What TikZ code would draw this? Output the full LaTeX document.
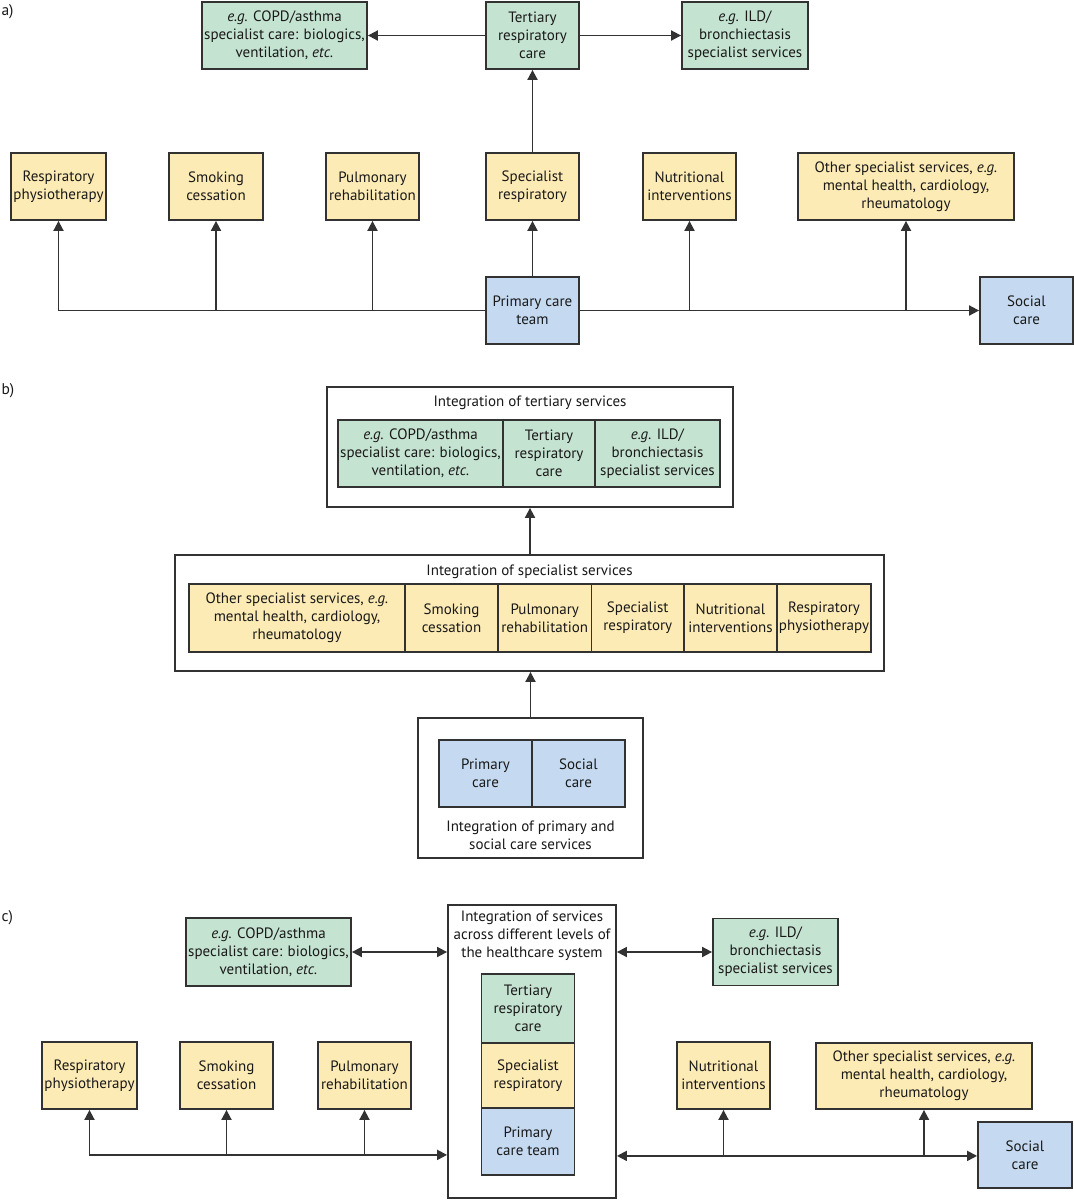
\documentclass[tikz,border=0pt]{standalone}
\usepackage{fontspec}
\setmainfont{PT Sans}
\usepackage{xcolor}
\usetikzlibrary{arrows.meta}
\definecolor{tergreen}{RGB}{197,227,209}
\definecolor{specyellow}{RGB}{253,235,181}
\definecolor{primblue}{RGB}{197,218,241}
\definecolor{linegray}{RGB}{50,50,50}

\begin{document}
\begin{tikzpicture}[x=1pt,y=-1pt,
  every node/.style={font=\fontsize{15}{18}\selectfont,text=black!90},
  box/.style={draw=linegray,line width=1.8pt,align=center,inner sep=0pt,minimum height=67pt},
  tertbox/.style={box,fill=tergreen},
  specbox/.style={box,fill=specyellow},
  primbox/.style={box,fill=primblue},
  frame/.style={draw=linegray,line width=1.8pt,fill=white,inner sep=0pt},
  conn/.style={line width=1.8pt,draw=linegray,-{Triangle[length=10pt,width=10pt]}},
  bconn/.style={line width=1.8pt,draw=linegray,{Triangle[length=10pt,width=10pt]}-{Triangle[length=10pt,width=10pt]}},
  lbl/.style={anchor=west,font=\fontsize{15.5}{18}\selectfont}]
\useasboundingbox (0,0) rectangle (1074,1200);

% a) separate services
\node[lbl] (alab) at (-2,12) {a)};
\node[tertbox,minimum width=165pt] (acopd) at (284.5,35.5) {\textit{e.g.} COPD/asthma\\specialist care: biologics,\\ventilation, \textit{etc.}};
\node[tertbox,minimum width=93pt] (atert) at (532.5,35.5) {Tertiary\\respiratory\\care};
\node[tertbox,minimum width=126pt] (aild) at (745,35.5) {\textit{e.g.} ILD/\\bronchiectasis\\specialist services};
\node[specbox,minimum width=95pt] (aresp) at (58.5,186.5) {Respiratory\\physiotherapy};
\node[specbox,minimum width=94pt] (asmok) at (216,186.5) {Smoking\\cessation};
\node[specbox,minimum width=93pt] (apulm) at (372.5,186.5) {Pulmonary\\rehabilitation};
\node[specbox,minimum width=93pt] (aspec) at (532.5,186.5) {Specialist\\respiratory};
\node[specbox,minimum width=93pt] (anutr) at (689.5,186.5) {Nutritional\\interventions};
\node[specbox,minimum width=216pt] (aoth) at (906,186.5) {Other specialist services, \textit{e.g.}\\mental health, cardiology,\\rheumatology};
\node[primbox,minimum width=93pt] (aprim) at (532.5,310.5) {Primary care\\team};
\node[primbox,minimum width=93pt] (asoc) at (1026.5,310.5) {Social\\care};

\draw[conn] (atert.west) -- (acopd.east);
\draw[conn] (atert.east) -- (aild.west);
\draw[conn] (aspec.north) -- (atert.south);
\draw[conn] (aprim.north) -- (aspec.south);
\draw[conn] (aprim.west) -| (aresp.south);
\foreach \n in {asmok,apulm} \draw[conn] (aprim.west -| \n.south) -- (\n.south);
\draw[conn] (aprim.east) -- (asoc.west);
\foreach \n in {anutr,aoth} \draw[conn] (aprim.east -| \n.south) -- (\n.south);

% b) integration level by level
\node[lbl] (blab) at (-2,391) {b)};
\node[frame,minimum width=406pt,minimum height=120pt] (btertout) at (530,447) {};
\node (btertttl) at (530,403) {Integration of tertiary services};
\node[tertbox,minimum width=165pt] (bcopd) at (420.5,453.5) {\textit{e.g.} COPD/asthma\\specialist care: biologics,\\ventilation, \textit{etc.}};
\node[tertbox,minimum width=92pt] (btert) at (549,453.5) {Tertiary\\respiratory\\care};
\node[tertbox,minimum width=125pt] (bild) at (657.5,453.5) {\textit{e.g.} ILD/\\bronchiectasis\\specialist services};

\node[frame,minimum width=709pt,minimum height=116pt] (bspecout) at (529.5,613) {};
\node (bspecttl) at (529.5,572) {Integration of specialist services};
\node[specbox,minimum width=216pt,minimum height=68pt] (both) at (297,618) {Other specialist services, \textit{e.g.}\\mental health, cardiology,\\rheumatology};
\node[specbox,minimum width=93pt,minimum height=68pt] (bsmok) at (451.5,618) {Smoking\\cessation};
\node[specbox,minimum width=93.5pt,minimum height=68pt] (bpulm) at (544.75,618) {Pulmonary\\rehabilitation};
\node[specbox,minimum width=92.5pt,minimum height=68pt] (bspec) at (637.75,618) {Specialist\\respiratory};
\node[specbox,minimum width=93pt,minimum height=68pt] (bnutr) at (730.5,618) {Nutritional\\interventions};
\node[specbox,minimum width=94pt,minimum height=68pt] (bresp) at (824,618) {Respiratory\\physiotherapy};

\node[frame,minimum width=225pt,minimum height=140pt] (bprimout) at (530.5,788) {};
\node[primbox,minimum width=93pt] (bprim) at (485.5,773.5) {Primary\\care};
\node[primbox,minimum width=93pt] (bsoc) at (578.5,773.5) {Social\\care};
\node[align=center] (bprimttl) at (530.5,835) {Integration of primary and\\social care services};

\draw[conn] (bspecout.north -| btertout.south) -- (btertout.south);
\draw[conn] (bprimout.north) -- (bprimout.north |- bspecout.south);

% c) integration across levels
\node[lbl] (clab) at (-2,918) {c)};
\node[frame,minimum width=168pt,minimum height=293pt] (cbig) at (532,1051.5) {};
\node[align=center] (cbigttl) at (532,936) {Integration of services\\across different levels of\\the healthcare system};
\node[tertbox,minimum width=93pt,minimum height=69pt] (ctert) at (528,1008.5) {Tertiary\\respiratory\\care};
\node[specbox,minimum width=93pt,minimum height=65pt] (cspec) at (528,1075.5) {Specialist\\respiratory};
\node[primbox,minimum width=93pt] (cprim) at (528,1141.5) {Primary\\care team};
\node[tertbox,minimum width=165pt,minimum height=68pt] (ccopd) at (268.5,952) {\textit{e.g.} COPD/asthma\\specialist care: biologics,\\ventilation, \textit{etc.}};
\node[tertbox,minimum width=125pt] (cild) at (775.5,952) {\textit{e.g.} ILD/\\bronchiectasis\\specialist services};
\node[specbox,minimum width=95pt] (cresp) at (89.5,1075.5) {Respiratory\\physiotherapy};
\node[specbox,minimum width=93pt] (csmok) at (226.5,1075.5) {Smoking\\cessation};
\node[specbox,minimum width=93pt] (cpulm) at (364.5,1075.5) {Pulmonary\\rehabilitation};
\node[specbox,minimum width=93pt] (cnutr) at (723.5,1075.5) {Nutritional\\interventions};
\node[specbox,minimum width=216pt,minimum height=66pt] (coth) at (924,1076) {Other specialist services, \textit{e.g.}\\mental health, cardiology,\\rheumatology};
\node[primbox,minimum width=94pt,minimum height=66pt] (csoc) at (1025,1155) {Social\\care};
\coordinate (cbl) at ([yshift=44pt]cbig.south west);
\coordinate (cbr) at ([yshift=43pt]cbig.south east);

\draw[bconn] (ccopd.east) -- (ccopd.east -| cbig.west);
\draw[bconn] (cbig.east |- cild.west) -- (cild.west);
\draw[bconn] (cresp.south) |- (cbl);
\foreach \n in {csmok,cpulm} \draw[conn] (cbl -| \n.south) -- (\n.south);
\draw[bconn] (cbr) -- (cbr -| csoc.west);
\foreach \n in {cnutr,coth} \draw[conn] (cbr -| \n.south) -- (\n.south);
\end{tikzpicture}
\end{document}
